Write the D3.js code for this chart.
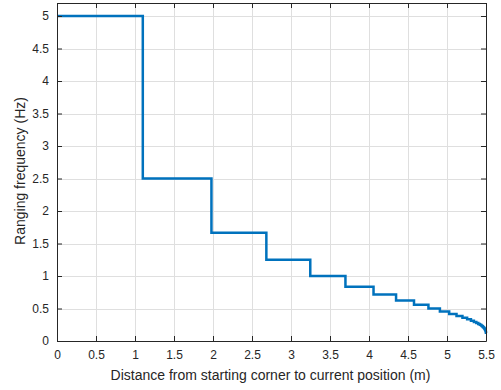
<!DOCTYPE html>
<html>
<head>
<meta charset="utf-8">
<script src="https://cdn.jsdelivr.net/npm/d3@7"></script>
<style>
  body { margin: 0; background: #fff; }
  svg { display: block; font-family: "Liberation Sans", Arial, sans-serif; }
</style>
</head>
<body>
<svg id="chart" width="501" height="390"></svg>
<script>
// step levels (Hz) and the distance (m) at which each level ends
const levels = [5, 2.5, 1.667, 1.25, 1, 0.833, 0.714, 0.625, 0.556, 0.5,
  0.455, 0.417, 0.385, 0.357, 0.333, 0.313, 0.294, 0.278, 0.263, 0.25,
  0.238, 0.227, 0.217, 0.208, 0.2, 0.192, 0.185, 0.179, 0.172, 0.167,
  0.161, 0.156, 0.152, 0.147, 0.143, 0.139, 0.135, 0.132, 0.128, 0.125];
const stepEnds = [1.1, 1.98, 2.684, 3.247, 3.698, 4.058, 4.347, 4.577, 4.762, 4.909,
  5.028, 5.122, 5.198, 5.258, 5.307, 5.345, 5.376, 5.401, 5.421, 5.437,
  5.449, 5.459, 5.468, 5.474, 5.479, 5.483, 5.487, 5.489, 5.492, 5.493,
  5.495, 5.496, 5.497, 5.497, 5.498, 5.498, 5.499, 5.499, 5.5, 5.5];
const xTicks = [0, 0.5, 1, 1.5, 2, 2.5, 3, 3.5, 4, 4.5, 5, 5.5];
const yTicks = [0, 0.5, 1, 1.5, 2, 2.5, 3, 3.5, 4, 4.5, 5];

const M = { left: 57, right: 486, top: 3, bottom: 341 };
const TICK = 5;

const svg = d3.select('#chart');
const x = d3.scaleLinear().domain([0, 5.5]).range([M.left, M.right]);
const y = d3.scaleLinear().domain([0, 5.2]).range([M.bottom, M.top]);

// grid
const grid = svg.append('g').attr('stroke', '#dfdfdf').attr('stroke-width', 1);
grid.selectAll('.gx').data(xTicks).join('line')
  .attr('x1', d => Math.round(x(d)) + 0.5).attr('x2', d => Math.round(x(d)) + 0.5)
  .attr('y1', M.top).attr('y2', M.bottom);
grid.selectAll('.gy').data(yTicks).join('line')
  .attr('y1', d => Math.round(y(d)) + 0.5).attr('y2', d => Math.round(y(d)) + 0.5)
  .attr('x1', M.left).attr('x2', M.right);

// step line
const pts = [[0, levels[0]]];
levels.forEach((v, i) => {
  pts.push([stepEnds[i], v]);
  if (i + 1 < levels.length) pts.push([stepEnds[i], levels[i + 1]]);
});
svg.append('path')
  .datum(pts)
  .attr('fill', 'none')
  .attr('stroke', '#0072BD')
  .attr('stroke-width', 2.5)
  .attr('stroke-linejoin', 'miter')
  .attr('d', d3.line().x(d => x(d[0])).y(d => y(d[1])));

// axes box with inward ticks
const axisColor = '#262626';
const axBottom = d3.axisBottom(x).tickValues(xTicks).tickSizeInner(-TICK).tickSizeOuter(0).tickPadding(9)
  .tickFormat(d3.format('~g'));
const axTop = d3.axisTop(x).tickValues(xTicks).tickSizeInner(-TICK).tickSizeOuter(0).tickFormat('');
const axLeft = d3.axisLeft(y).tickValues(yTicks).tickSizeInner(-TICK).tickSizeOuter(0).tickPadding(8)
  .tickFormat(d3.format('~g'));
const axRight = d3.axisRight(y).tickValues(yTicks).tickSizeInner(-TICK).tickSizeOuter(0).tickFormat('');

function styleAxis(g) {
  g.select('.domain').attr('stroke', axisColor);
  g.selectAll('.tick line').attr('stroke', axisColor);
  g.selectAll('.tick text').attr('fill', axisColor).attr('font-size', 12);
}
svg.append('g').attr('transform', `translate(0,${M.bottom})`).call(axBottom).call(styleAxis);
svg.append('g').attr('transform', `translate(0,${M.top})`).call(axTop).call(styleAxis);
svg.append('g').attr('transform', `translate(${M.left},0)`).call(axLeft).call(styleAxis);
svg.append('g').attr('transform', `translate(${M.right},0)`).call(axRight).call(styleAxis);

svg.append('text')
  .attr('x', 270.5).attr('y', 380)
  .attr('text-anchor', 'middle').attr('font-size', 14).attr('fill', axisColor)
  .text('Distance from starting corner to current position (m)');

svg.append('text')
  .attr('transform', `translate(25,171) rotate(-90)`)
  .attr('text-anchor', 'middle').attr('font-size', 14).attr('fill', axisColor)
  .text('Ranging frequency (Hz)');
</script>
</body>
</html>
